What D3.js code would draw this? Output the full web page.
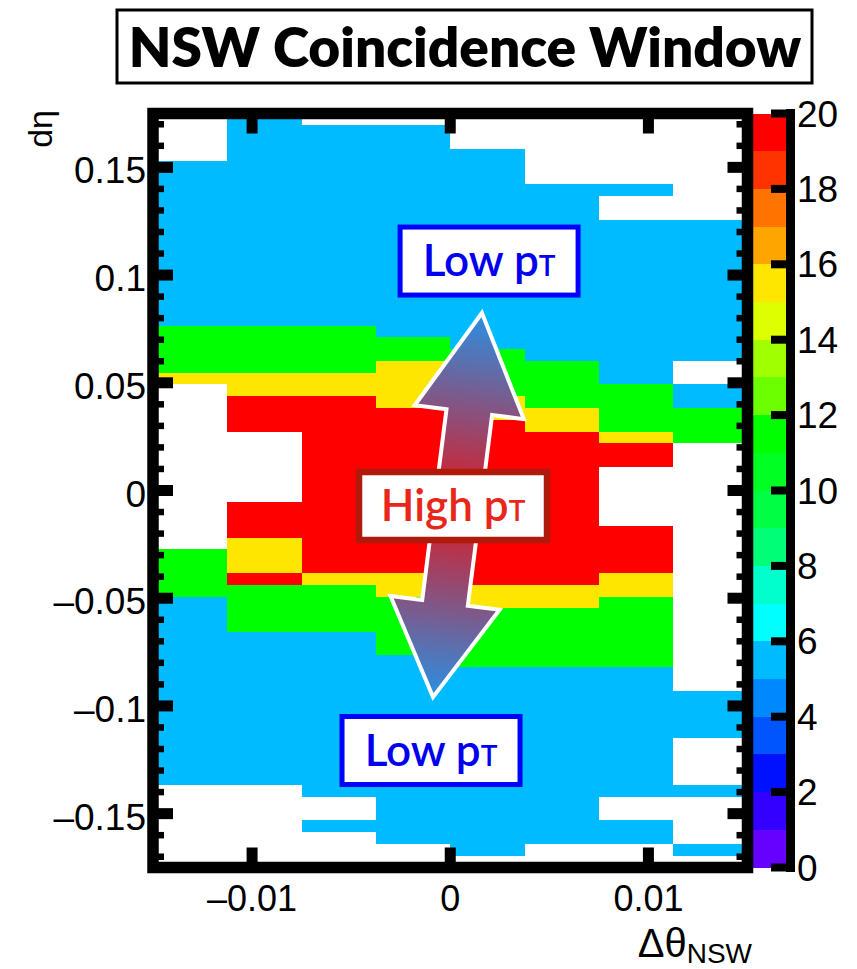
<!DOCTYPE html>
<html>
<head>
<meta charset="utf-8">
<script src="https://cdn.jsdelivr.net/npm/d3@7/dist/d3.min.js"></script>
<style>
  html, body { margin: 0; padding: 0; background: #ffffff; }
  svg { display: block; }
</style>
</head>
<body>
<svg id="chart" width="857" height="969"></svg>
<script>
// ---- binning ----
const dthetaEdges = [-0.015, -0.01125, -0.0075, -0.00375, 0, 0.00375, 0.0075, 0.01125, 0.015];
const etaMin = -0.175, etaMax = 0.175, etaBins = 64;

// ---- bin contents: one row per dη bin, from the highest dη down; one column per Δθ bin ----
const counts = [
  [0,5,0,0,0,0,0,0],
  [0,5,5,5,0,0,0,0],
  [0,5,5,5,0,0,0,0],
  [0,5,5,5,5,0,0,0],
  [5,5,5,5,5,0,0,0],
  [5,5,5,5,5,0,0,0],
  [5,5,5,5,5,5,5,0],
  [5,5,5,5,5,5,0,0],
  [5,5,5,5,5,5,0,0],
  [5,5,5,5,5,5,5,5],
  [5,5,5,5,5,5,5,5],
  [5,5,5,5,5,5,5,5],
  [5,5,5,5,5,5,5,5],
  [5,5,5,5,5,5,5,5],
  [5,5,5,5,5,5,5,5],
  [5,5,5,5,5,5,5,5],
  [5,5,5,5,5,5,5,5],
  [5,5,5,5,5,5,5,5],
  [11,11,11,5,5,5,5,5],
  [11,11,11,11,5,5,5,5],
  [11,11,11,11,11,5,5,5],
  [11,11,11,15,11,11,5,0],
  [15,15,15,15,11,11,5,0],
  [0,15,15,15,11,11,11,5],
  [0,19,19,15,15,11,11,5],
  [0,19,19,19,15,15,11,11],
  [0,19,19,19,19,15,11,11],
  [0,0,19,19,19,19,15,11],
  [0,0,19,19,19,19,19,0],
  [0,0,19,19,19,19,19,0],
  [0,0,19,19,19,19,0,0],
  [0,0,19,19,19,19,0,0],
  [0,0,19,19,19,19,0,0],
  [0,19,19,19,19,19,0,0],
  [0,19,19,19,19,19,0,0],
  [0,19,19,19,19,19,19,0],
  [0,15,19,19,19,19,19,0],
  [11,15,19,19,19,19,19,0],
  [11,15,19,19,19,19,19,0],
  [11,19,15,15,19,19,15,0],
  [11,11,11,15,15,15,15,0],
  [5,11,11,11,15,15,11,0],
  [5,11,11,11,11,11,11,0],
  [5,11,11,11,11,11,11,0],
  [5,5,5,11,11,11,11,0],
  [5,5,5,11,11,11,11,0],
  [5,5,5,5,11,11,11,0],
  [5,5,5,5,5,5,5,0],
  [5,5,5,5,5,5,5,0],
  [5,5,5,5,5,5,5,5],
  [5,5,5,5,5,5,5,5],
  [5,5,5,5,5,5,5,5],
  [5,5,5,5,5,5,5,5],
  [5,5,5,5,5,5,5,0],
  [5,5,5,5,5,5,5,0],
  [5,5,5,5,5,5,5,0],
  [5,5,5,5,5,5,5,0],
  [0,0,5,5,5,5,5,5],
  [0,0,0,5,5,5,0,0],
  [0,0,0,5,5,5,0,0],
  [0,0,5,5,5,5,5,0],
  [0,0,0,5,5,5,5,0],
  [0,0,0,0,5,0,0,5],
  [0,0,0,0,0,0,0,0]
];

// ---- colour palette (20 contour levels from 0 to 20) ----
const zMin = 0, zMax = 20;
const paletteColors = [
  "#6600ff","#3300ff","#0011ff","#0055ff","#0088ff",
  "#00bbff","#00ffff","#00ffcc","#00ff77","#00ff44",
  "#00ff22","#00ff00","#6cff00","#a0ff00","#ddff00",
  "#ffe600","#ffa500","#ff7300","#ff3300","#ff0000"
];

// ---- axis ticks ----
const xTicks = [-0.01, 0, 0.01];
const xTickLabels = ["\u20130.01", "0", "0.01"];
const yTicks = [-0.15, -0.1, -0.05, 0, 0.05, 0.1, 0.15];
const yTickLabels = ["\u20130.15", "\u20130.1", "\u20130.05", "0", "0.05", "0.1", "0.15"];
const yMinorTicks = [-0.17,-0.16,-0.14,-0.13,-0.12,-0.11,-0.09,-0.08,-0.07,-0.06,-0.04,-0.03,-0.02,-0.01,
                     0.01,0.02,0.03,0.04,0.06,0.07,0.08,0.09,0.11,0.12,0.13,0.14,0.16,0.17];
const zTicks = [0, 2, 4, 6, 8, 10, 12, 14, 16, 18, 20];

// ---- annotations (positions in data coordinates) ----
const arrowTop = [0.0016, 0.0824];
const arrowBottom = [-0.00087, -0.0959];
const lowBoxes = [[0.00196, 0.1065], [-0.00097, -0.1207]];
const highBox = [0.00014, -0.0072];

const svg = d3.select("#chart");
const axisFont = "'Liberation Sans', Arial, Helvetica, sans-serif";
const labelFont = "Lato, 'Open Sans', sans-serif";

const x = d3.scaleLinear().domain([dthetaEdges[0], dthetaEdges[dthetaEdges.length - 1]]).range([153, 747.5]);
const y = d3.scaleLinear().domain([etaMin, etaMax]).range([867.5, 113.5]);
const z = d3.scaleLinear().domain([zMin, zMax]).range([867.5, 113.5]);
const colour = d3.scaleQuantize().domain([zMin, zMax]).range(paletteColors);
const etaWidth = (etaMax - etaMin) / etaBins;

// ---- heat-map cells (empty bins are not drawn) ----
const cells = [];
counts.forEach((row, j) => {
  row.forEach((v, i) => {
    if (v > 0) cells.push({ i, j, v });
  });
});
svg.append("g").selectAll("rect").data(cells).join("rect")
  .attr("x", d => x(dthetaEdges[d.i]))
  .attr("width", d => x(dthetaEdges[d.i + 1]) - x(dthetaEdges[d.i]))
  .attr("y", d => y(etaMax - d.j * etaWidth))
  .attr("height", d => y(etaMax - (d.j + 1) * etaWidth) - y(etaMax - d.j * etaWidth))
  .attr("fill", d => colour(d.v))
  .attr("shape-rendering", "crispEdges");

// ---- palette ----
const levels = d3.range(paletteColors.length);
const levelStep = (zMax - zMin) / paletteColors.length;
svg.append("g").selectAll("rect").data(levels).join("rect")
  .attr("x", 753).attr("width", 33.5)
  .attr("y", k => z(zMin + (k + 1) * levelStep))
  .attr("height", k => z(zMin + k * levelStep) - z(zMin + (k + 1) * levelStep))
  .attr("fill", k => paletteColors[k])
  .attr("shape-rendering", "crispEdges");

const pal = svg.append("g");
pal.append("line").attr("x1", 790.5).attr("x2", 790.5)
  .attr("y1", z(zMin)).attr("y2", z(zMax))
  .attr("stroke", "#000").attr("stroke-width", 9).attr("stroke-linecap", "square");
pal.selectAll("line.tick").data(zTicks).join("line").attr("class", "tick")
  .attr("x1", 790).attr("x2", 771)
  .attr("y1", d => z(d)).attr("y2", d => z(d))
  .attr("stroke", "#000").attr("stroke-width", 8);
pal.selectAll("text").data(zTicks).join("text")
  .attr("x", 797).attr("y", d => z(d) + 13)
  .attr("font-family", axisFont).attr("font-size", 37)
  .text(d => d);

// ---- frame ----
const fx0 = x.range()[0], fx1 = x.range()[1], fy0 = y.range()[1], fy1 = y.range()[0];
const frame = svg.append("g");
frame.append("rect")
  .attr("x", fx0).attr("y", fy0).attr("width", fx1 - fx0).attr("height", fy1 - fy0)
  .attr("fill", "none").attr("stroke", "#000").attr("stroke-width", 11.5);

// y ticks, both sides
[[fx0, 1], [fx1, -1]].forEach(([x0, dir]) => {
  frame.selectAll(null).data(yTicks).join("line")
    .attr("x1", x0).attr("x2", x0 + dir * 20)
    .attr("y1", d => y(d)).attr("y2", d => y(d))
    .attr("stroke", "#000").attr("stroke-width", 11);
  frame.selectAll(null).data(yMinorTicks).join("line")
    .attr("x1", x0).attr("x2", x0 + dir * 11)
    .attr("y1", d => y(d)).attr("y2", d => y(d))
    .attr("stroke", "#000").attr("stroke-width", 6.5);
});
// x ticks, top and bottom
[[fy0, 1], [fy1, -1]].forEach(([y0, dir]) => {
  frame.selectAll(null).data(xTicks).join("line")
    .attr("x1", d => x(d)).attr("x2", d => x(d))
    .attr("y1", y0).attr("y2", y0 + dir * 20)
    .attr("stroke", "#000").attr("stroke-width", 11);
});

// tick labels
svg.append("g").selectAll("text").data(yTicks).join("text")
  .attr("x", 146).attr("y", d => y(d) + 16)
  .attr("text-anchor", "end")
  .attr("font-family", axisFont).attr("font-size", 37)
  .text((d, k) => yTickLabels[k]);
svg.append("g").selectAll("text").data(xTicks).join("text")
  .attr("x", d => x(d)).attr("y", 911)
  .attr("text-anchor", "middle")
  .attr("font-family", axisFont).attr("font-size", 36)
  .text((d, k) => xTickLabels[k]);

// axis titles
const xt = svg.append("text")
  .attr("x", 752).attr("y", 957)
  .attr("text-anchor", "end")
  .attr("font-family", axisFont).attr("font-size", 40);
xt.append("tspan").text("\u0394\u03b8");
xt.append("tspan").attr("font-size", 28).attr("dy", 6).text("NSW");

svg.append("text")
  .attr("transform", "translate(52,110) rotate(-90)")
  .attr("text-anchor", "end")
  .attr("font-family", axisFont).attr("font-size", 34)
  .text("d\u03b7");

// ---- title ----
svg.append("rect").attr("x", 117).attr("y", 10).attr("width", 695).attr("height", 73)
  .attr("fill", "#fff").attr("stroke", "#000").attr("stroke-width", 3);
svg.append("text").attr("x", 465).attr("y", 67)
  .attr("text-anchor", "middle")
  .attr("font-family", labelFont).attr("font-weight", 800).attr("font-size", 55)
  .text("NSW Coincidence Window");

// ---- double arrow ----
const defs = svg.append("defs");
const [tx, ty] = [x(arrowTop[0]), y(arrowTop[1])];
const [bx, by] = [x(arrowBottom[0]), y(arrowBottom[1])];
const grad = defs.append("linearGradient").attr("id", "arrowFill")
  .attr("gradientUnits", "userSpaceOnUse")
  .attr("x1", tx).attr("y1", ty).attr("x2", bx).attr("y2", by);
grad.append("stop").attr("offset", 0).attr("stop-color", "#2b8fe2");
grad.append("stop").attr("offset", 0.5).attr("stop-color", "#e01820");
grad.append("stop").attr("offset", 1).attr("stop-color", "#2b8fe2");

const len = Math.hypot(bx - tx, by - ty);
const ang = Math.atan2(-(bx - tx), by - ty) * 180 / Math.PI;
const cx = (tx + bx) / 2, cy = (ty + by) / 2;
const h = len / 2, headUp = 100, headDown = 95, headW = 55, shaftW = 23;
const arrowPts = [
  [0, -h], [headW, -h + headUp], [shaftW, -h + headUp], [shaftW, h - headDown],
  [headW, h - headDown], [0, h], [-headW, h - headDown], [-shaftW, h - headDown],
  [-shaftW, -h + headUp], [-headW, -h + headUp]
];
const rad = ang * Math.PI / 180;
const toPage = ([u, v]) => [cx + u * Math.cos(rad) - v * Math.sin(rad), cy + u * Math.sin(rad) + v * Math.cos(rad)];
svg.append("path")
  .attr("d", d3.line()(arrowPts.map(toPage)) + "Z")
  .attr("fill", "url(#arrowFill)")
  .attr("stroke", "#fff").attr("stroke-width", 4).attr("stroke-linejoin", "miter");

// ---- labelled boxes ----
function ptBox(center, w, hgt, stroke, sw, textColour, word) {
  const [px, py] = [x(center[0]), y(center[1])];
  svg.append("rect")
    .attr("x", px - w / 2).attr("y", py - hgt / 2).attr("width", w).attr("height", hgt)
    .attr("fill", "#fff").attr("stroke", stroke).attr("stroke-width", sw);
  const t = svg.append("text")
    .attr("x", px).attr("y", py + 15)
    .attr("text-anchor", "middle")
    .attr("font-family", labelFont).attr("font-weight", 600).attr("font-size", 44)
    .attr("fill", textColour);
  t.append("tspan").text(word + " p");
  t.append("tspan").attr("font-size", 28).text("T");
}
lowBoxes.forEach(c => ptBox(c, 178, 68, "#0000ff", 5, "#0000ee", "Low"));
ptBox(highBox, 188, 68, "#b01a0a", 6.5, "#e8261a", "High");
</script>
</body>
</html>
